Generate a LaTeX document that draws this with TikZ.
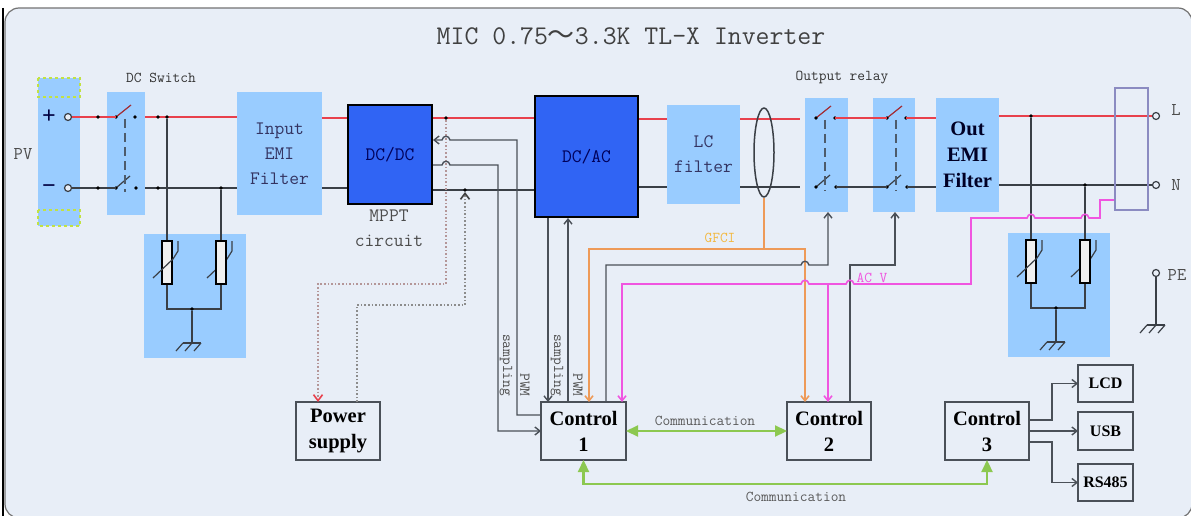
\documentclass[tikz,border=0pt]{standalone}
\usepackage{fontspec}
\newfontfamily\labelserif{Liberation Serif}
\newfontfamily\cjk{Noto Sans CJK SC}
\usetikzlibrary{arrows.meta, shapes.geometric}
\definecolor{panelbg}{HTML}{E8EEF7}
\definecolor{blockbg}{HTML}{99CCFF}
\definecolor{dcblue}{HTML}{3064F4}
\definecolor{wirered}{HTML}{E8404C}
\definecolor{wiredark}{HTML}{3A3F46}
\definecolor{siggrey}{HTML}{4A5058}
\definecolor{gfciorange}{HTML}{EE9A58}
\definecolor{acvpink}{HTML}{F055E0}
\definecolor{commgreen}{HTML}{8CC850}
\newcommand{\hopx}[2]{-- (#1-4,#2) .. controls (#1-3,#2-5) and (#1+3,#2-5) .. (#1+4,#2)}
\tikzset{
  pics/poleswitch/.style={code={
    \coordinate (-a) at (0,0);
    \coordinate (-c) at (19,0);
    \coordinate (-b) at (0,#1);
    \coordinate (-d) at (20,#1);
    \draw[line width=1.2pt, wirered!70!black] (-a) -- (15,-12);
    \draw[line width=1.2pt, wiredark] (-b) -- (14,#1-12);
    \draw[line width=1.2pt, dashed, dash pattern=on 9pt off 5pt, wiredark!80!blockbg] (9,2) -- (9,#1+4);
    \fill[black] (-a) circle (1.8pt) (-c) circle (1.8pt) (-b) circle (1.8pt) (-d) circle (1.8pt);
  }},
  pics/earth/.style={code={
    \coordinate (-top) at (0,0);
    \draw[line width=1.2pt, wiredark] (-9,0) -- (9,0);
    \foreach \x in {-9,0,9}
      \draw[line width=1.2pt, wiredark] (\x,0) -- (\x-7,8);
  }},
  pics/varistor/.style={code={
    \draw[line width=1.2pt, wiredark] (12,-18) -- (32,-37) -- (37,-45) -- (37,-55);
    \node[resistor] (-a) at (-28,-33.5) {};
    \node[resistor] (-b) at (26,-33.5) {};
    \draw[line width=1.2pt, wiredark] (-42,-18) -- (-22,-37) -- (-17,-45) -- (-17,-55);
    \draw[line width=1.4pt, wiredark] (-a.south) -- (-28,13) -- (26,13) -- (-b.south);
    \node[dot] (-j) at (-3,13) {};
    \pic (-gnd) at (-3,47) {earth};
    \draw[line width=1.4pt, wiredark] (-j) -- (-gnd-top);
  }},
}
\begin{document}
\begin{tikzpicture}[x=1pt, y=-1pt,
    lightblock/.style={fill=blockbg, inner sep=0pt, outer sep=0pt, text=black!70!blue!60!gray},
    dcblock/.style={fill=dcblue, draw=black, line width=2pt, inner sep=0pt, text=blue!35!black},
    ctrlbox/.style={draw=siggrey, line width=1.6pt, inner sep=0pt, outer sep=0pt, align=center, text=black},
    monobig/.style={font=\ttfamily\fontsize{19}{25}\selectfont, align=center},
    monosmall/.style={font=\ttfamily\fontsize{15}{18}\selectfont},
    boldbig/.style={font=\labelserif\bfseries\fontsize{20.5}{26}\selectfont},
    boldsmall/.style={font=\labelserif\bfseries\fontsize{16}{20}\selectfont},
    terminal/.style={circle, draw=wiredark, fill=panelbg, line width=1.2pt, minimum size=7pt, inner sep=0pt},
    dot/.style={circle, fill=black, minimum size=3.6pt, inner sep=0pt},
    resistor/.style={draw=black, fill=black!6, line width=1.2pt, minimum width=10pt, minimum height=43pt, inner sep=0pt},
    redwire/.style={wirered, line width=1.8pt},
    blackwire/.style={wiredark, line width=1.5pt},
    sigline/.style={siggrey, line width=1.4pt},
    sigarrow/.style={sigline, -{Straight Barb[length=5pt,width=8pt]}},
    commarrow/.style={commgreen, line width=2.2pt, arrows={Triangle[length=12pt,width=11pt]-Triangle[length=12pt,width=11pt]}},
  ]
  \useasboundingbox (0,0) rectangle (1191,516);
  \draw[fill=panelbg, draw=black!55, line width=1.2pt, rounded corners=14pt] (5,8) rectangle (1192,518);
  \draw[black, line width=2.5pt] (3,8) -- (3,516);

  \node[lightblock, minimum width=42pt, minimum height=148pt] (pv) at (59,152) {};
  \node[lightblock, minimum width=38pt, minimum height=123pt] (dcswitch) at (126,153.5) {};
  \node[lightblock, monobig, minimum width=85pt, minimum height=123pt] (emi) at (279.5,153.5) {Input\\EMI\\Filter};
  \node[dcblock, monobig, minimum width=84pt, minimum height=99pt] (dcdc) at (390,154.5) {DC/DC};
  \node[dcblock, monobig, minimum width=103pt, minimum height=121pt] (dcac) at (586.5,156.5) {DC/AC};
  \node[lightblock, monobig, minimum width=73pt, minimum height=99pt] (lc) at (703.5,154.5) {LC\\filter};
  \node[lightblock, minimum width=43pt, minimum height=114pt] (relay1) at (826.5,155) {};
  \node[lightblock, minimum width=42pt, minimum height=114pt] (relay2) at (894,155) {};
  \node[lightblock, boldbig, align=center, text=black!85!blue, minimum width=63pt, minimum height=114pt] (outemi) at (967.5,155) {Out\\EMI\\Filter};
  \node[lightblock, minimum width=102pt, minimum height=124pt] (surgeleft) at (195,296) {};
  \node[lightblock, minimum width=102pt, minimum height=124pt] (surgeright) at (1059,295) {};

  \draw[draw=yellow!70!green!80!white, line width=1.2pt, dashed] (pv.north west) rectangle (pv.east |- 0,97);
  \draw[draw=yellow!70!green!80!white, line width=1.2pt, dashed] (pv.west |- 0,210) rectangle (pv.south east);

  \node[ctrlbox, boldbig, minimum width=84pt, minimum height=58pt] (power) at (338,431) {Power\\supply};
  \node[ctrlbox, boldbig, minimum width=85pt, minimum height=58pt] (ctrl1) at (583.5,431) {Control\\1};
  \node[ctrlbox, boldbig, minimum width=84pt, minimum height=58pt] (ctrl2) at (829,431) {Control\\2};
  \node[ctrlbox, boldbig, minimum width=84pt, minimum height=58pt] (ctrl3) at (987,431) {Control\\3};
  \node[ctrlbox, boldsmall, minimum width=55pt, minimum height=37pt] (lcd) at (1105.5,383.5) {LCD};
  \node[ctrlbox, boldsmall, minimum width=55pt, minimum height=38pt] (usb) at (1105.5,431) {USB};
  \node[ctrlbox, boldsmall, minimum width=55pt, minimum height=37pt] (rs485) at (1105.5,482.5) {RS485};

  \node[font=\ttfamily\fontsize{27}{30}\selectfont, text=black!75] (title) at (631,36) {MIC 0.75{\cjk ～}3.3K TL-X Inverter};
  \node[monosmall, text=black!80] (dcswitchlabel) at (161,78) {DC Switch};
  \node[monosmall, text=black!80] (relaylabel) at (842,78) {Output relay};
  \node[font=\ttfamily\fontsize{18}{20}\selectfont, text=black!70] (pvlabel) at (23,154) {PV};
  \node[font=\labelserif\bfseries\fontsize{24}{24}\selectfont, text=black!75!blue] (pluslabel) at (49,117) {+};
  \node[font=\labelserif\bfseries\fontsize{24}{24}\selectfont, text=black!75!blue] (minuslabel) at (49,189) {−};
  \node[monobig, text=black!70] (mpptlabel) at (389,228) {MPPT\\circuit};
  \node[font=\ttfamily\fontsize{18}{20}\selectfont, text=black!70] (llabel) at (1176,110) {L};
  \node[font=\ttfamily\fontsize{18}{20}\selectfont, text=black!70] (nlabel) at (1176,185) {N};
  \node[font=\ttfamily\fontsize{18}{20}\selectfont, text=black!70] (pelabel) at (1177,275) {PE};
  \node[monosmall, rotate=-90, text=black!70] (samplingA) at (506,365) {sampling};
  \node[monosmall, rotate=-90, text=black!70] (pwmA) at (525,385) {PWM};
  \node[monosmall, rotate=-90, text=black!70] (samplingB) at (557,365) {sampling};
  \node[monosmall, rotate=-90, text=black!70] (pwmB) at (578,385) {PWM};
  \node[monosmall, text=gfciorange!70!yellow] (gfcilabel) at (720,238) {GFCI};
  \node[monosmall, text=acvpink] (acvlabel) at (872,278) {AC V};
  \node[monosmall, text=black!65] (commA) at (705,421) {Communication};
  \node[monosmall, text=black!65] (commB) at (796,497) {Communication};

  \pic (dcsw) at (116,117) {poleswitch=71};
  \pic (rel1) at (816,118) {poleswitch=69};
  \pic (rel2) at (887,118) {poleswitch=69};
  \pic (vleft) at (195,296) {varistor};
  \pic (vright) at (1059,295) {varistor};

  \node[terminal] (pvplus) at (68,117) {};
  \node[terminal] (pvminus) at (68,188) {};
  \node[terminal] (lterm) at (1156,116) {};
  \node[terminal] (nterm) at (1156,185) {};
  \node[terminal] (peterm) at (1156,273) {};
  \pic (pegnd) at (1156,325) {earth};
  \draw[blackwire] (peterm) -- (pegnd-top);

  \coordinate (gapplus) at (800,119);
  \coordinate (gapminus) at (800,187);
  \draw[redwire] (pvplus) -- (dcsw-a);
  \draw[redwire] (dcswitch.east |- dcsw-a) -- (emi.west |- dcsw-a);
  \draw[redwire] (emi.east |- 0,118) -- (dcdc.west |- 0,118);
  \draw[redwire] (dcdc.east |- 0,118) -- (dcac.west |- 0,118);
  \draw[redwire] (dcac.east |- gapplus) -- (lc.west |- gapplus);
  \draw[redwire] (lc.east |- gapplus) -- (gapplus);
  \draw[redwire] (rel1-c) -- (rel2-a);
  \draw[redwire] (rel2-c) -- (outemi.west |- rel2-c);
  \draw[redwire] (outemi.east |- lterm) -- (lterm);

  \draw[blackwire] (pvminus) -- (dcsw-b);
  \draw[blackwire] (dcswitch.east |- dcsw-b) -- (emi.west |- dcsw-b);
  \draw[blackwire] (emi.east |- 0,188) -- (dcdc.west |- 0,188);
  \draw[blackwire] (dcdc.east |- 0,190) -- (dcac.west |- 0,190);
  \draw[blackwire] (dcac.east |- gapminus) -- (lc.west |- gapminus);
  \draw[blackwire] (lc.east |- gapminus) -- (gapminus);
  \draw[blackwire] (rel1-d) -- (rel2-b);
  \draw[blackwire] (rel2-d) -- (outemi.west |- rel2-d);
  \draw[blackwire] (outemi.east |- nterm) -- (nterm);

  \foreach \n/\x/\y in {a/98/117, b/98/188, c/158/117, d/158/188}
    \node[dot] (wiredot\n) at (\x,\y) {};
  \node[dot] (juncA) at (167,117) {};
  \node[dot] (juncB) at (221,188) {};
  \node[dot] (dcplus) at (446,118) {};
  \node[dot] (dcminus) at (465,190) {};
  \node[dot] (juncL) at (1031,116) {};
  \node[dot] (juncN) at (1085,185) {};
  \draw[blackwire] (juncA) -- (vleft-a.north);
  \draw[blackwire] (juncB) -- (vleft-b.north);
  \draw[blackwire] (juncL) -- (vright-a.north);
  \draw[blackwire] (juncN) -- (vright-b.north);

  \draw[line width=1.6pt, dotted, black!15!wirered!30!gray!70!white, -{Straight Barb[length=6pt,width=9pt,color=wirered]}]
    (dcplus) |- (318,284) -- (power.north -| 318,0);
  \draw[line width=1.6pt, dotted, black!45, -{Straight Barb[length=6pt,width=9pt,color=black!75]}]
    (power.north -| 357,0) |- (465,305) -- (dcminus);

  \draw[sigarrow] (dcdc.east |- 0,165) \hopx{446}{165} -- (498,165) -- (498,431) -- (ctrl1.west |- 0,431);
  \draw[sigline, {Straight Barb[length=5pt,width=8pt]}-] (dcdc.east |- 0,140) \hopx{446}{140} -- (517,140) -- (517,415) -- (ctrl1.west |- 0,415);
  \draw[sigarrow] (dcac.south -| 548,0) -- (ctrl1.north -| 548,0);
  \draw[sigarrow] (ctrl1.north -| 568,0) -- (dcac.south -| 568,0);

  \node[ellipse, draw=wiredark, line width=1.5pt, minimum width=20pt, minimum height=89pt, inner sep=0pt] (ctcoil) at (764,152.5) {};
  \draw[gfciorange, line width=1.6pt] (ctcoil.south) -- (764,249);
  \draw[gfciorange, line width=1.6pt, {Straight Barb[length=5pt,width=8pt]}-{Straight Barb[length=5pt,width=8pt]}]
    (ctrl1.north -| 589,0) |- (805,249) -- (ctrl2.north -| 805,0);

  \draw[sigarrow] (ctrl1.north -| 606,0) -- (606,265) \hopx{805}{265} -- (828,265) -- (relay1.south -| 828,0);
  \draw[sigarrow] (ctrl2.north -| 850,0) -- (850,265) -- (895,265) -- (relay2.south -| 895,0);

  \draw[acvpink, line width=1.6pt, {Straight Barb[length=5pt,width=8pt]}-] (ctrl1.north -| 622,0) -- (622,284)
    \hopx{805}{284} \hopx{850}{284} -- (971,284) -- (971,218) \hopx{1031}{218} \hopx{1085}{218} -- (1100,218) -- (1100,200) -- (1115,200);
  \draw[acvpink, line width=1.6pt, -{Straight Barb[length=5pt,width=8pt]}] (828,284) -- (ctrl2.north -| 828,0);
  \node[draw=blue!30!gray!70!white, line width=1.2pt, minimum width=33pt, minimum height=122pt, inner sep=0pt, outer sep=0pt] (sensor) at (1131.5,149) {};

  \draw[commarrow] (ctrl1.east |- 0,431) -- (ctrl2.west |- 0,431);
  \draw[commarrow] (ctrl1.south) |- (ctrl3.south |- 0,484) -- (ctrl3.south);

  \draw[sigarrow] (ctrl3.east |- 0,420) -- (1052,420) |- (lcd.west);
  \draw[sigarrow] (ctrl3.east |- usb.west) -- (usb.west);
  \draw[sigarrow] (ctrl3.east |- 0,442) -- (1052,442) |- (rs485.west);
\end{tikzpicture}
\end{document}
